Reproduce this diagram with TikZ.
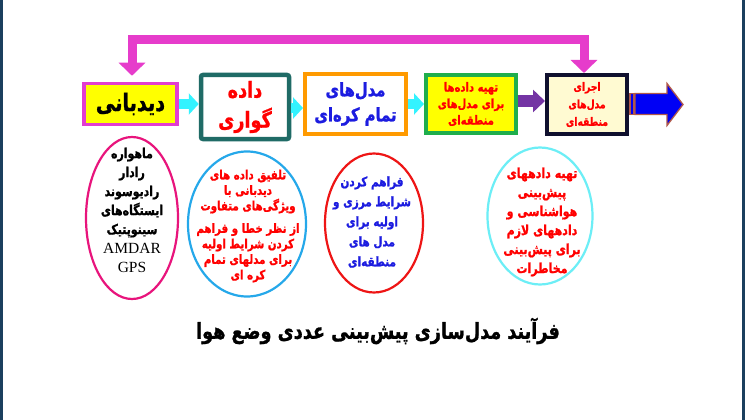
\documentclass[tikz,border=0pt]{standalone}
\usepackage{fontspec}
\TeXXeTstate=1
\newfontfamily\arabicfont[Script=Arabic, FakeStretch=0.8, BoldFeatures={FakeBold=1.2}]{DejaVu Sans}
\newfontfamily\latserif{Liberation Serif}
\usetikzlibrary{arrows.meta,calc,shapes.geometric}
\newcommand{\RL}[1]{\beginR #1\endR}
\newcommand{\fs}[2]{\fontsize{#1}{#2}\selectfont}
\definecolor{edgeblue}{HTML}{1B3F5E}
\definecolor{fbpink}{HTML}{E63CCB}
\definecolor{bmag}{HTML}{E23DD0}
\definecolor{bteal}{HTML}{1F6B66}
\definecolor{borange}{HTML}{FF9A00}
\definecolor{bgreen}{HTML}{1FAE4C}
\definecolor{bnavy}{HTML}{10102E}
\definecolor{cream}{HTML}{FFFAD2}
\definecolor{ycol}{HTML}{FFFF00}
\definecolor{acyan}{HTML}{33F3FF}
\definecolor{apurple}{HTML}{7434A4}
\definecolor{ablue}{HTML}{0000F5}
\definecolor{asienna}{HTML}{B0584A}
\definecolor{tred}{HTML}{FF0000}
\definecolor{tblue}{HTML}{1C1CE0}
\definecolor{epink}{HTML}{E8147C}
\definecolor{esky}{HTML}{25A8EA}
\definecolor{ered}{HTML}{EE1515}
\definecolor{ecyan}{HTML}{6CEEF6}
\begin{document}
\begin{tikzpicture}[x=1pt,y=-1pt,
  box/.style={rectangle, align=center, inner sep=0pt, font=\arabicfont\bfseries},
  oval/.style={ellipse, inner sep=0pt, line width=2.2pt},
  otext/.style={align=center, inner sep=0pt, font=\arabicfont\bfseries},
  cyanarrow/.style={acyan, line width=10pt, -{Triangle[width=21pt,length=10pt]}},
  purplearrow/.style={apurple, line width=12pt, -{Triangle[width=22pt,length=12pt]}},
  feedback/.style={fbpink, line width=9pt, line join=miter,
    {Triangle[width=26pt,length=13pt]}-{Triangle[width=26pt,length=13pt]}}
]
\useasboundingbox (0,0) rectangle (745,420);
\fill[white] (0,0) rectangle (745,420);
\fill[edgeblue] (0,0) rectangle (3,420);
\fill[edgeblue] (742,0) rectangle (745,420);

% boxes
\node[box, draw=bmag, fill=ycol, line width=3.5pt, minimum width=93pt, minimum height=41pt,
  font=\arabicfont\bfseries\fs{24}{26}] (b1) at (130.5,104) {\RL{دیدبانی}};
\node[box, draw=bteal, fill=white, line width=4.5pt, minimum width=88pt, minimum height=64pt,
  rounded corners=2pt, text=tred, font=\arabicfont\bfseries\fs{22}{30}] (b2) at (245,107) {\RL{داده}\\\RL{گواری}};
\node[box, draw=borange, fill=white, line width=4pt, minimum width=101pt, minimum height=59pt,
  text=tblue, font=\arabicfont\bfseries\fs{18.5}{25}] (b3) at (355.5,104) {\RL{مدل‌های}\\\RL{تمام کره‌ای}};
\node[box, draw=bgreen, fill=ycol, line width=4pt, minimum width=90pt, minimum height=58pt,
  text=tred, font=\arabicfont\bfseries\fs{12.5}{16.5}] (b4) at (471,104) {\RL{تهیه داده‌ها}\\\RL{برای مدل‌های}\\\RL{منطقه‌ای}};
\node[box, draw=bnavy, fill=cream, line width=4pt, minimum width=80pt, minimum height=59pt,
  text=tred, font=\arabicfont\bfseries\fs{11.5}{17.5}] (b5) at (587,104.5) {\RL{اجرای}\\\RL{مدل‌های}\\\RL{منطقه‌ای}};

% connectors
\draw[cyanarrow] (b1.east) -- (b1.east -| b2.west);
\draw[cyanarrow] ([yshift=-1pt]b2.east) -- ([yshift=-1pt]b2.east -| b3.west);
\draw[cyanarrow] (b3.east) -- (b3.east -| b4.west);
\draw[purplearrow] ([yshift=3pt]b4.east) -- ([yshift=3pt]b4.east -| b5.west);

% feedback arrow
\coordinate (bar) at (0,40);
\coordinate (fbL) at ([xshift=1.5pt,yshift=6pt]b1.north);
\coordinate (fbR) at ([xshift=-3pt]b5.north);
\draw[feedback] (fbR) -- (fbR |- bar) -- (fbL |- bar) -- (fbL);

% big output arrow
\coordinate (oa) at (b5.east);
\filldraw[fill=ablue, draw=asienna, line width=1.3pt]
  ([xshift=1pt,yshift=11pt]oa) rectangle ([xshift=5pt,yshift=-10pt]oa);
\filldraw[fill=ablue, draw=asienna, line width=1.3pt, line join=miter]
  ([xshift=6pt,yshift=11pt]oa) -- ([xshift=38pt,yshift=11pt]oa) -- ([xshift=38pt,yshift=21pt]oa)
  -- ([xshift=54pt,yshift=0pt]oa) -- ([xshift=38pt,yshift=-21pt]oa) -- ([xshift=38pt,yshift=-10pt]oa)
  -- ([xshift=6pt,yshift=-10pt]oa) -- cycle;

% ellipses
\node[oval, draw=epink, minimum width=92pt, minimum height=162pt] (e1) at (132,218) {};
\node[otext, font=\arabicfont\bfseries\fs{13.7}{19}] (t1) at (132,210)
  {\RL{ماهواره}\\\RL{رادار}\\\RL{رادیوسوند}\\\RL{ایستگاه‌های}\\\RL{سینوپتیک}\\{\latserif\mdseries\fs{15.5}{19}AMDAR}\\{\latserif\mdseries\fs{15.5}{19}GPS}};

\node[oval, draw=esky, minimum width=118pt, minimum height=145pt] (e2) at (247,224) {};
\node[otext, text=tred, font=\arabicfont\bfseries\fs{12.8}{15.5}] (t2) at (248,226)
  {\RL{تلفیق داده های}\\\RL{دیدبانی با}\\\RL{ویژگی‌های متفاوت}\\[7pt]\RL{از نظر خطا و فراهم}\\\RL{کردن شرایط اولیه}\\\RL{برای مدلهای تمام}\\\RL{کره ای}};

\node[oval, draw=ered, minimum width=98pt, minimum height=139pt] (e3) at (374,223) {};
\node[otext, text=tblue, font=\arabicfont\bfseries\fs{13.1}{20}] (t3) at (372,222)
  {\RL{فراهم کردن}\\\RL{شرایط مرزی و}\\\RL{اولیه برای}\\\RL{مدل های}\\\RL{منطقه‌ای}};

\node[oval, draw=ecyan, minimum width=105pt, minimum height=137pt] (e4) at (540,216) {};
\node[otext, text=tred, font=\arabicfont\bfseries\fs{13.8}{19}] (t4) at (542,222)
  {\RL{تهیه دادههای}\\\RL{پیش‌بینی}\\\RL{هواشناسی و}\\\RL{دادههای لازم}\\\RL{برای پیش‌بینی}\\\RL{مخاطرات}};

% title
\node[otext, font=\arabicfont\bfseries\fs{22}{24}] (title) at (378,331)
  {\RL{فرآیند مدل‌سازی پیش‌بینی عددی وضع هوا}};
\end{tikzpicture}
\end{document}
